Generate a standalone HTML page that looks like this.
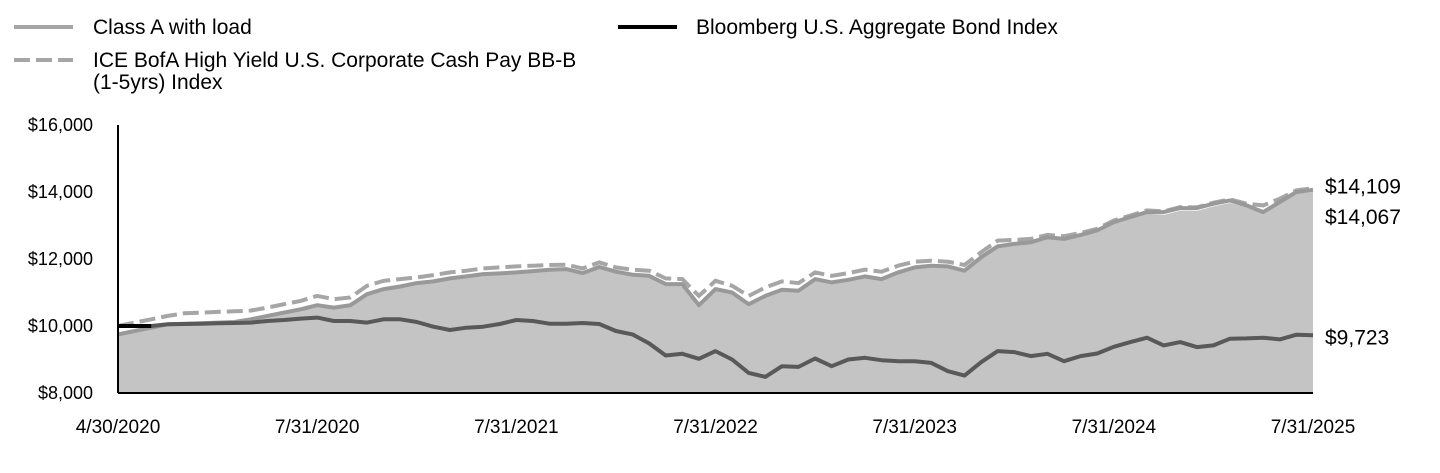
<!DOCTYPE html>
<html><head><meta charset="utf-8"><style>
body{margin:0;background:#fff;font-family:"Liberation Sans",Arial,sans-serif}
svg text{font-family:"Liberation Sans",Arial,sans-serif;fill:#000}
</style></head><body>
<svg width="1440" height="468" viewBox="0 0 1440 468">
<g>
 <line x1="14" y1="27" x2="73" y2="27" stroke="#a6a6a6" stroke-width="4"/>
 <text x="93" y="34" font-size="21">Class A with load</text>
 <line x1="14" y1="60" x2="73" y2="60" stroke="#a6a6a6" stroke-width="4" stroke-dasharray="16,6"/>
 <text x="93" y="67" font-size="21">ICE BofA High Yield U.S. Corporate Cash Pay BB-B</text>
 <text x="93" y="89" font-size="21">(1-5yrs) Index</text>
 <line x1="618" y1="27" x2="677" y2="27" stroke="#000" stroke-width="4"/>
 <text x="696" y="34" font-size="21">Bloomberg U.S. Aggregate Bond Index</text>
</g>
<g id="plot"></g>
</svg>
<script>
const classA=[9750,9850,9950,10050,10070,10080,10100,10120,10200,10300,10400,10500,10620,10550,10620,10950,11100,11180,11280,11330,11420,11480,11550,11570,11600,11640,11680,11700,11580,11760,11620,11530,11500,11250,11250,10620,11100,11000,10650,10900,11080,11050,11400,11300,11380,11480,11400,11600,11750,11800,11780,11650,12050,12380,12450,12500,12650,12600,12720,12850,13100,13250,13400,13400,13520,13520,13650,13750,13600,13400,13700,14000,14067];
const ice=[10000,10100,10200,10300,10380,10400,10420,10440,10460,10550,10650,10750,10900,10800,10850,11200,11350,11400,11450,11520,11600,11650,11720,11750,11780,11800,11820,11830,11720,11900,11750,11680,11650,11420,11400,10900,11350,11200,10900,11150,11330,11280,11600,11500,11580,11680,11620,11800,11920,11950,11920,11820,12200,12550,12570,12600,12720,12680,12780,12900,13150,13300,13450,13420,13550,13540,13680,13780,13650,13600,13800,14050,14109];
const bloomberg=[10000,10000,10000,10050,10060,10070,10080,10090,10100,10150,10180,10220,10250,10150,10150,10100,10200,10200,10120,9980,9880,9950,9980,10060,10180,10150,10070,10070,10090,10060,9850,9750,9480,9120,9170,9020,9250,9000,8600,8480,8800,8780,9030,8800,9000,9050,8980,8950,8950,8900,8650,8520,8920,9250,9220,9100,9170,8950,9100,9180,9380,9520,9650,9420,9520,9370,9420,9620,9630,9650,9600,9740,9723];
const yTicks=[8000,10000,12000,14000,16000];
const xLabels=["4/30/2020","7/31/2020","7/31/2021","7/31/2022","7/31/2023","7/31/2024","7/31/2025"];
const xLabelIdx=[0,12,24,36,48,60,72];
const endLabels=["$14,109","$14,067","$9,723"];

const NS="http://www.w3.org/2000/svg";
const g=document.getElementById('plot');
const X0=118,X1=1313,Y0=393,Y1=125,VMIN=8000,VMAX=16000;
const n=classA.length;
const xs=i=>X0+(X1-X0)*i/(n-1);
const ys=v=>Y0-(v-VMIN)/(VMAX-VMIN)*(Y0-Y1);
function mk(t,a){const e=document.createElementNS(NS,t);for(const k in a)e.setAttribute(k,a[k]);g.appendChild(e);return e;}
const pts=a=>a.map((v,i)=>xs(i).toFixed(1)+','+ys(v).toFixed(1)).join(' ');

let area=mk('polygon',{points:xs(0)+','+Y0+' '+pts(classA)+' '+xs(n-1)+','+Y0,fill:'#c4c4c4'});


let l1=mk('polyline',{points:pts(ice),fill:'none',stroke:'#fff',"stroke-width":7,"stroke-linejoin":'round'});


let l2=mk('polyline',{points:pts(ice),fill:'none',stroke:'#a6a6a6',"stroke-width":4,"stroke-dasharray":'16,6'});


let l3=mk('polyline',{points:pts(classA),fill:'none',stroke:'#999',"stroke-width":4,"stroke-linejoin":'round'});


let l4=mk('polyline',{points:pts(bloomberg),fill:'none',stroke:'#595959',"stroke-width":4,"stroke-linejoin":'round'});


let l5=mk('polyline',{points:pts(bloomberg.slice(0,3)),fill:'none',stroke:'#000',"stroke-width":4});



let ax=mk('line',{x1:X0,y1:Y1,x2:X0,y2:Y0,stroke:'#000',"stroke-width":2});


let bx=mk('line',{x1:X0,y1:Y0,x2:X1,y2:Y0,stroke:'#000',"stroke-width":2});



yTicks.forEach(v=>{
 const t=mk('text',{x:93,y:ys(v)+6,"font-size":18,"text-anchor":'end'});
 t.textContent='$'+v.toLocaleString('en-US');
 
 
});
xLabels.forEach((s,k)=>{
 const t=mk('text',{x:xs(xLabelIdx[k]),y:433,"font-size":19,"text-anchor":'middle'});
 t.textContent=s;
 
 
});
const endVals=[ice[n-1],classA[n-1],bloomberg[n-1]];
const endY=[ys(endVals[0])-3,ys(endVals[1])+26,ys(endVals[2])+1];
endLabels.forEach((s,k)=>{
 const t=mk('text',{x:1325,y:endY[k]+8,"font-size":21});
 t.textContent=s;
 
 
});
</script>
</body></html>
